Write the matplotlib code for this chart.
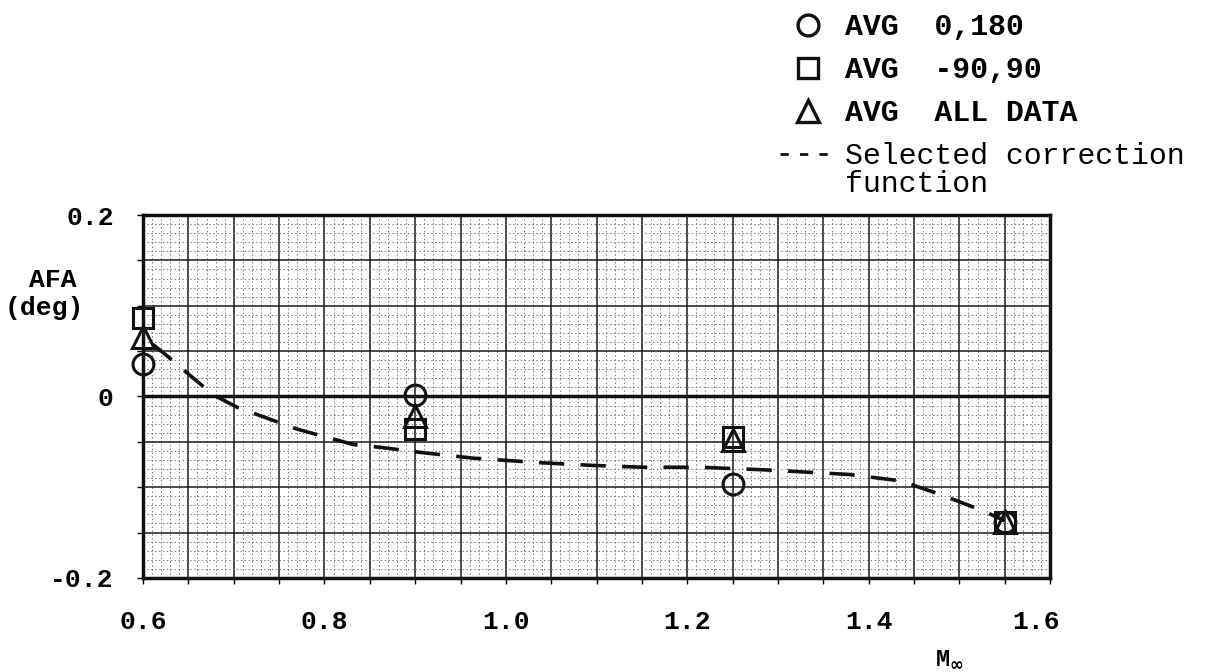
import numpy as np
import matplotlib
matplotlib.use("Agg")
import matplotlib.pyplot as plt
import matplotlib.transforms as mtransforms
from matplotlib.lines import Line2D
from matplotlib.text import Annotation
from matplotlib.ticker import MultipleLocator

# ---- data ----
mach = [0.6, 0.9, 1.25, 1.55]
avg_0_180 = [0.036, 0.002, -0.097, -0.138]
avg_m90_90 = [0.086, -0.036, -0.045, -0.138]
avg_all = [0.066, -0.022, -0.048, -0.138]

corr_x = [0.61, 0.625, 0.677, 0.704, 0.77, 0.832, 0.861, 0.909, 0.964, 1.038,
          1.096, 1.151, 1.214, 1.288, 1.379, 1.435, 1.479, 1.526, 1.55]
corr_y = [0.058, 0.046, 0.002, -0.012, -0.036, -0.053, -0.056, -0.062, -0.068,
          -0.073, -0.076, -0.078, -0.078, -0.081, -0.086, -0.093, -0.108, -0.126, -0.137]

x_ticklabels = ["0.6", "0.8", "1.0", "1.2", "1.4", "1.6"]
y_ticklabels = ["-0.2", "0", "0.2"]
legend_labels = ["AVG  0,180", "AVG  -90,90", "AVG  ALL DATA", "Selected correction"]
legend_extra = "function"

MONO = ["Liberation Mono", "DejaVu Sans Mono"]

fig = plt.figure(figsize=(12.07, 6.72), dpi=100)
ax = fig.add_axes([0.1185, 0.140, 0.7515, 0.540])
ax.set_xlim(0.6, 1.6)
ax.set_ylim(-0.2, 0.2)

xt = np.round(np.arange(0.6, 1.6001, 0.05), 2)
yt = np.round(np.arange(-0.2, 0.2001, 0.05), 2)
xlab_map = {round(float(s), 2): s for s in x_ticklabels}
ylab_map = {round(float(s), 2): s for s in y_ticklabels}
ax.set_xticks(xt, [xlab_map.get(round(float(v), 2), "") for v in xt])
ax.set_yticks(yt, [ylab_map.get(round(float(v), 2), "") for v in yt])
ax.xaxis.set_minor_locator(MultipleLocator(0.01))
ax.yaxis.set_minor_locator(MultipleLocator(0.01))

ax.grid(which="major", color="#1a1a1a", lw=1.1)
ax.grid(which="minor", color="#777777", lw=0.7, ls=(0, (1.5, 2.5)))
ax.set_axisbelow(True)
ax.tick_params(which="major", length=4, width=1, labelsize=19, direction="out")
ax.tick_params(axis="x", pad=19)
ax.tick_params(axis="y", pad=17)
ax.tick_params(which="minor", length=0)
for lab in ax.get_xticklabels() + ax.get_yticklabels():
    lab.set_fontfamily(MONO)
    lab.set_fontweight("bold")
xlabs = ax.get_xticklabels()
xlabs[-1].set_transform(xlabs[-1].get_transform() +
                        mtransforms.ScaledTranslation(-14 / 100, 0, fig.dpi_scale_trans))

for sp in ax.spines.values():
    sp.set_linewidth(2.5)
    sp.set_color("#111111")

ax.axhline(0, color="#111111", lw=2.5, zorder=1.5)

ax.plot(corr_x, corr_y, color="#111111", lw=2.6, ls=(0, (7, 4.5)), zorder=3)

mk = dict(ls="none", mfc="none", mec="#111111", mew=2.2, zorder=4, clip_on=False)
ax.plot(mach, avg_0_180, marker="o", ms=15, **mk)
ax.plot(mach, avg_m90_90, marker="s", ms=14, **mk)
ax.plot(mach, avg_all, marker="^", ms=16, **mk)

# legend
h = [Line2D([], [], marker="o", ls="none", mfc="none", mec="#111111", mew=2.4, ms=15),
     Line2D([], [], marker="s", ls="none", mfc="none", mec="#111111", mew=2.4, ms=14),
     Line2D([], [], marker="^", ls="none", mfc="none", mec="#111111", mew=2.4, ms=16),
     Line2D([], [], color="#111111", lw=2, ls=(0, (3, 4)))]
leg = fig.legend(h, legend_labels, loc="upper left", bbox_to_anchor=(0.624, 1.020),
                 frameon=False, handlelength=1.84, handletextpad=0.35,
                 labelspacing=0.5, prop={"family": MONO, "size": 21.5})
for t in leg.get_texts()[:3]:
    t.set_fontweight("bold")
ann = Annotation(legend_extra, xy=(0, 0), xycoords=leg.get_texts()[3], xytext=(0, 0),
                 textcoords="offset points", ha="left", va="top",
                 family=MONO, fontsize=21.5)
ann.set_zorder(10)
fig.add_artist(ann)

fig.text(0.044, 0.583, "AFA", ha="center", va="center", fontsize=19,
         fontweight="bold", family=MONO)
fig.text(0.037, 0.542, "(deg)", ha="center", va="center", fontsize=19,
         fontweight="bold", family=MONO)
fig.text(0.775, 0.003, r"M$_{\mathbf{\infty}}$", ha="left", va="bottom", fontsize=17,
         fontweight="bold", family=MONO)

fig.savefig("out.png", dpi=100, facecolor="white")
